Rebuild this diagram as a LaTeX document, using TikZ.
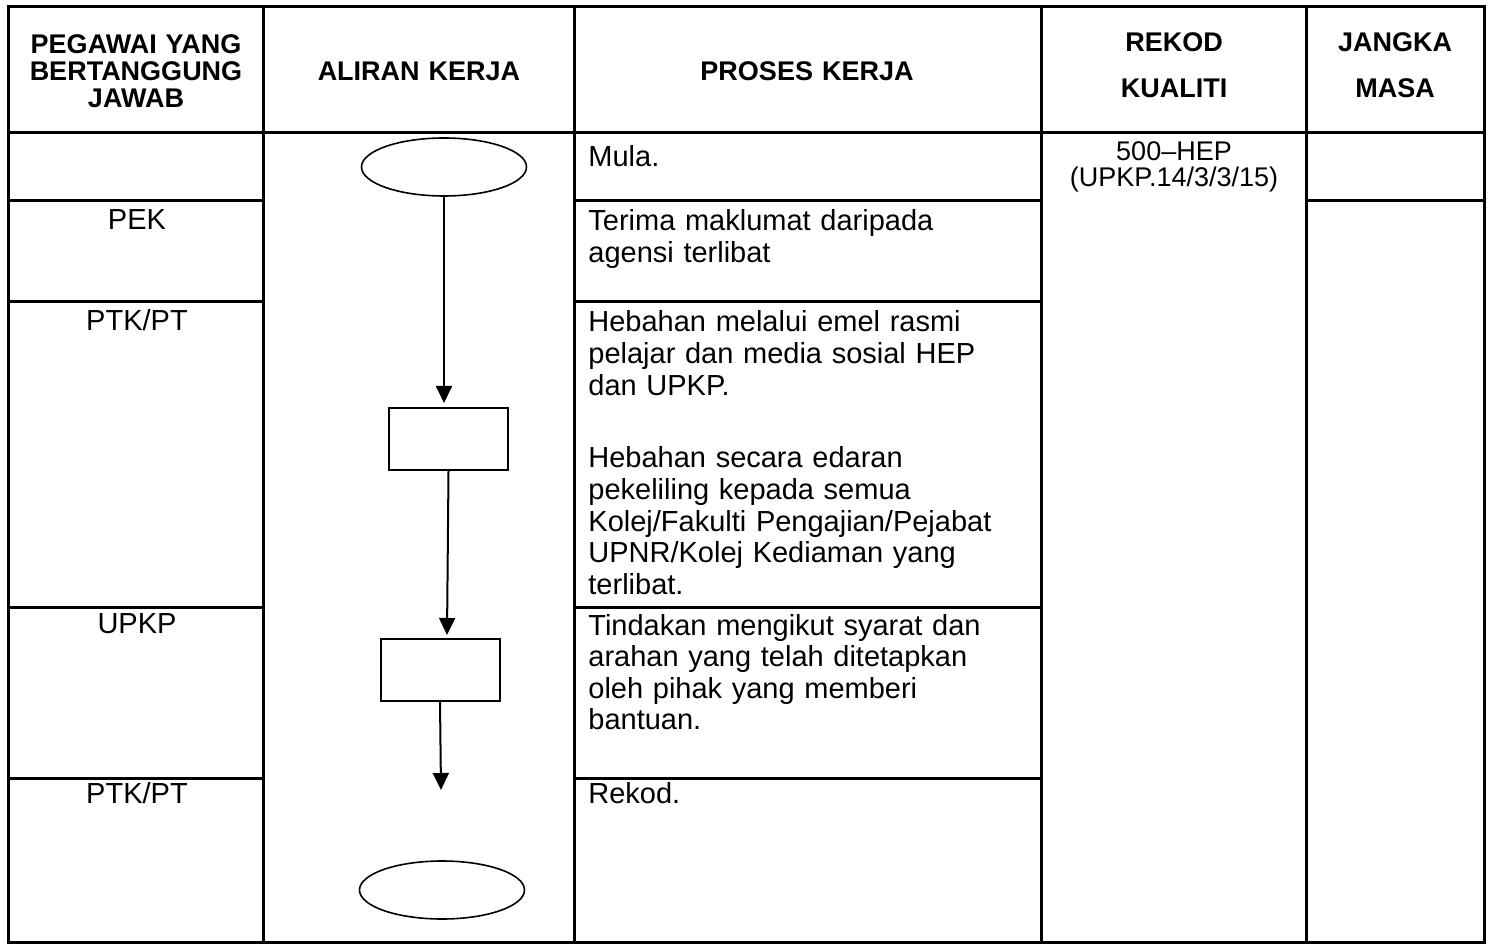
\documentclass[tikz,border=0pt]{standalone}
\usepackage{fontspec}
\setmainfont{Liberation Sans}
\usetikzlibrary{shapes.geometric,arrows.meta}

\tikzstyle{rule} = [line width=1.5pt]
\tikzstyle{term} = [draw, ellipse, line width=.8pt, minimum width=82.5pt, minimum height=29pt, inner sep=0pt]
\tikzstyle{proc} = [draw, rectangle, line width=1pt, minimum width=59.5pt, minimum height=31pt, inner sep=0pt]
\tikzstyle{flow} = [-{Triangle[length=8.5pt,width=8pt]}, line width=1pt]
\tikzstyle{head} = [font=\bfseries\fontsize{13.5}{13.5}\selectfont, align=center, anchor=base, inner sep=0pt]
\tikzstyle{who} = [font=\fontsize{14.5}{15.8}\selectfont, anchor=base, inner sep=0pt]
\tikzstyle{task} = [font=\fontsize{14.5}{15.8}\selectfont, text width=240pt, align=left, anchor=base west, inner sep=0pt]
\tikzstyle{rec} = [font=\fontsize{13.5}{13}\selectfont, text width=130pt, align=center, anchor=base, inner sep=0pt]

\begin{document}
\begin{tikzpicture}[x=.5pt,y=-.5pt]
  % column edges and outer rows
  \def\xa{8}
  \def\xb{263}
  \def\xc{574}
  \def\xd{1041}
  \def\xe{1306}
  \def\xf{1484}
  \def\ya{7}
  \def\yh{133}
  \def\yb{942}

  \useasboundingbox (0,0) rectangle (1491,945);

  % table grid
  \draw[rule] (\xa,\ya) rectangle (\xf,\yb);
  \draw[rule] (\xa,\yh) -- (\xf,\yh);
  \foreach \x in {\xb,\xc,\xd,\xe}
    \draw[rule] (\x,\ya) -- (\x,\yb);
  \foreach \y in {201,302,607,778} {
    \draw[rule] (\xa,\y) -- (\xb,\y);
    \draw[rule] (\xc,\y) -- (\xd,\y);
  }
  \draw[rule] (\xe,201) -- (\xf,201);

  % headings
  \node [head, text width=125pt] (hpeg) at (136,54) {PEGAWAI YANG\\BERTANGGUNG\\JAWAB};
  \node [head, text width=150pt] (halir) at (419,81) {ALIRAN KERJA};
  \node [head, text width=225pt] (hpros) at (807,81) {PROSES KERJA};
  \node [head, text width=130pt] (hrek) at (1174,52) {REKOD\\[9.5pt]KUALITI};
  \node [head, text width=85pt] (hjan) at (1395,52) {JANGKA\\[9.5pt]MASA};

  % who is in charge
  \node [who] (pek) at (137,230) {PEK};
  \node [who] (ptk) at (137,331) {PTK/PT};
  \node [who] (upkp) at (137,633) {UPKP};
  \node [who] (ptkb) at (137,803) {PTK/PT};

  % flow chart
  \node [term] (mula) at (444,167) {};
  \node [proc] (hebah) at (448.5,439) {};
  \node [proc] (tindak) at (440,669.5) {};
  \node [term] (tamat) at (442,890) {};
  \coordinate (hebah_a) at (444,403);
  \coordinate (tindak_a) at (447,635);
  \coordinate (tamat_a) at (441,790);

  \draw [flow] (mula) -- (hebah_a);
  \draw [flow] (hebah.south) -- (tindak_a);
  \draw [flow] (tindak.south) -- (tamat_a);

  % process steps
  \node [task] (tmula) at (588,167) {Mula.};
  \node [task] (tterima) at (588,231) {Terima maklumat daripada\\agensi terlibat};
  \node [task] (temel) at (588,332) {Hebahan melalui emel rasmi\\pelajar dan media sosial HEP\\dan UPKP.};
  \node [task] (tedar) at (588,468) {Hebahan secara edaran\\pekeliling kepada semua\\Kolej/Fakulti Pengajian/Pejabat\\UPNR/Kolej Kediaman yang\\terlibat.};
  \node [task] (ttindak) at (588,635) {Tindakan mengikut syarat dan\\arahan yang telah ditetapkan\\oleh pihak yang memberi\\bantuan.};
  \node [task] (trekod) at (588,803) {Rekod.};

  % quality record
  \node [rec] (kod) at (1174,161) {500--HEP\\(UPKP.14/3/3/15)};
\end{tikzpicture}
\end{document}
